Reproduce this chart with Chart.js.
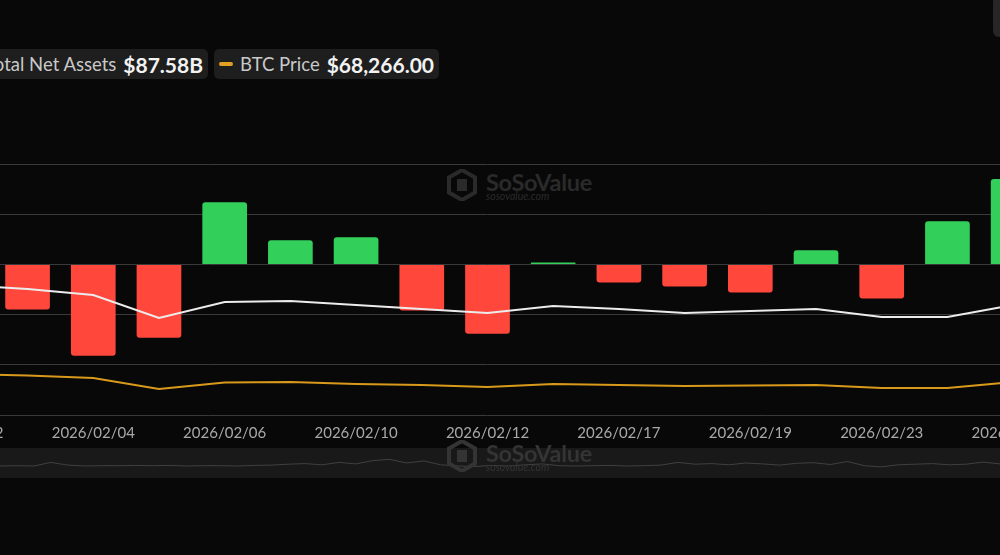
<!DOCTYPE html>
<html>
<head>
<meta charset="utf-8">
<script src="https://cdn.jsdelivr.net/npm/chart.js@4.4.1/dist/chart.umd.min.js"></script>
<style>
  html, body { margin: 0; padding: 0; background: #080808; overflow: hidden; }
  body { width: 1000px; height: 555px; position: relative; font-family: Lato, "Noto Sans", sans-serif; }
  .legend { position: absolute; top: 49px; height: 30px; background: #1e1e1e; border-radius: 5px;
            display: flex; align-items: center; white-space: nowrap; padding: 0 5px; box-sizing: border-box; }
  .legend .lbl { color: #c9c9c9; font-size: 18.5px; margin-right: 7px; }
  .legend .val { color: #f2f2f2; font-size: 21px; font-weight: 700; }
  .legend .mark { display: inline-block; width: 14px; height: 4px; border-radius: 2px; margin-right: 7px; }
  #wrap { position: absolute; left: -71px; top: 0; width: 1117px; height: 455px; }
  #navBand { position: absolute; left: 0; top: 448px; width: 1000px; height: 30px; background: #191919; }
  #navWrap { position: absolute; left: 0; top: 448px; width: 1000px; height: 30px; }
  .wm { position: absolute; color: #2a2a2a; font-weight: 700; font-size: 23.5px; letter-spacing: -0.3px; pointer-events: none; }
  .wm small { display: block; font-size: 10.5px; font-weight: 400; font-style: italic; letter-spacing: 0; margin-top: -6px; }
  .wm svg { position: absolute; left: -39px; top: 1px; }
  #topBtn { position: absolute; left: 993px; top: -4px; width: 40px; height: 41px; background: #262626; border-radius: 6px; }
</style>
</head>
<body>
<div id="topBtn"></div>
<div class="legend" style="right: 792px;"><span class="mark" style="background:#e8e8e8"></span><span class="lbl">Total Net Assets</span><span class="val">$87.58B</span></div>
<div class="legend" style="left: 214px;"><span class="mark" style="background:#e0a020"></span><span class="lbl">BTC Price</span><span class="val">$68,266.00</span></div>

<div class="wm" style="left:486px; top:168px;">
  <svg width="30" height="32" viewBox="0 0 30 32"><polygon points="15,1 28,8.5 28,23.5 15,31 2,23.5 2,8.5" fill="none" stroke="#2a2a2a" stroke-width="4"/><rect x="10" y="10" width="10" height="12" fill="#2a2a2a"/></svg>
  SoSoValue<small>sosovalue.com</small>
</div>

<div id="wrap"><canvas id="chartCanvas"></canvas></div>
<div id="navBand"></div>
<div id="navWrap"><canvas id="navCanvas"></canvas></div>
<div class="wm" style="left:486px; top:439px; color:#343434;">
  <svg width="30" height="32" viewBox="0 0 30 32"><polygon points="15,1 28,8.5 28,23.5 15,31 2,23.5 2,8.5" fill="none" stroke="#343434" stroke-width="4"/><rect x="10" y="10" width="10" height="12" fill="#343434"/></svg>
  SoSoValue<small>sosovalue.com</small>
</div>

<script>
// Fechas (días de negociación)
const dates = ['2026/02/02', '2026/02/03', '2026/02/04', '2026/02/05', '2026/02/06', '2026/02/09',
  '2026/02/10', '2026/02/11', '2026/02/12', '2026/02/13', '2026/02/17', '2026/02/18',
  '2026/02/19', '2026/02/20', '2026/02/23', '2026/02/24', '2026/02/25'];

// Entrada neta diaria (millones USD)
const netInflow = [560, -450, -910, -730, 620, 240, 270, -460, -690, 20, -180, -220, -280, 140, -340, 430, 850];

// Activos netos totales (miles de millones USD)
const totalNetAssets = [95.6, 94.0, 91.6, 82.4, 88.8, 89.2, 87.6, 86.0, 84.4, 87.2, 86.0, 84.4, 85.2, 86.0, 82.8, 82.8, 87.58];

// Precio BTC (USD)
const btcPrice = [73870, 72820, 71070, 63370, 67920, 68270, 66870, 66170, 64770, 66870, 66170, 65470, 65820, 66170, 64070, 64070, 68266];

// Línea del navegador inferior (historia larga, valores relativos)
const navLine = [40, 41, 40, 52, 43, 40, 41, 41, 42, 41, 42, 40, 41, 41, 40, 42, 43, 46, 48, 44,
  52, 47, 58, 62, 50, 57, 44, 40, 38, 42, 40, 44, 47, 41, 40, 41, 42, 40, 41, 43,
  52, 46, 48, 44, 50, 47, 43, 49, 51, 45, 55, 41, 37, 44, 46, 48, 44, 46, 53, 47];

const green = '#33cf5b';
const red = '#ff473c';

const ctx = document.getElementById('chartCanvas').getContext('2d');
const mainChart = new Chart(ctx, {
  type: 'bar',
  data: {
    labels: dates,
    datasets: [
      {
        type: 'line',
        label: 'Total Net Assets',
        data: totalNetAssets,
        yAxisID: 'assets',
        borderColor: '#ececec',
        borderWidth: 2,
        pointRadius: 0,
        tension: 0,
        order: 1
      },
      {
        type: 'line',
        label: 'BTC Price',
        data: btcPrice,
        yAxisID: 'price',
        borderColor: '#d99a1c',
        borderWidth: 2,
        pointRadius: 0,
        tension: 0,
        order: 1
      },
      {
        type: 'bar',
        label: 'Daily Total Net Inflow',
        data: netInflow,
        yAxisID: 'y',
        backgroundColor: netInflow.map(v => v >= 0 ? green : red),
        borderRadius: 3,
        borderSkipped: 'start',
        categoryPercentage: 1,
        barPercentage: 0.68,
        order: 2
      }
    ]
  },
  options: {
    responsive: true,
    maintainAspectRatio: false,
    animation: false,
    layout: { padding: { top: 164, left: 0, right: 0, bottom: 0 } },
    plugins: { legend: { display: false }, tooltip: { enabled: false } },
    scales: {
      x: {
        offset: true,
        grid: { display: false, drawTicks: false },
        border: { display: false },
        ticks: {
          autoSkip: false,
          maxRotation: 0,
          minRotation: 0,
          padding: 9,
          color: '#a9a9a9',
          font: { family: 'Lato', size: 15 },
          callback: function (val, i) { return i % 2 === 0 ? dates[i] : ''; }
        },
        afterFit: function (s) { s.height = 40; s.paddingLeft = 0; s.paddingRight = 0; }
      },
      y: {
        min: -1500,
        max: 1000,
        ticks: { display: false, stepSize: 500 },
        grid: { color: '#3a3a3a', lineWidth: 1, drawTicks: false },
        border: { display: false },
        afterFit: function (s) { s.width = 0; }
      },
      assets: { display: false, min: 43.6, max: 144.0 },
      price: { display: false, min: 45166, max: 220866 }
    }
  }
});

// Navegador inferior
const navCtx = document.getElementById('navCanvas').getContext('2d');
new Chart(navCtx, {
  type: 'line',
  data: {
    labels: navLine.map((_, i) => i),
    datasets: [{
      data: navLine,
      borderColor: '#404040',
      borderWidth: 1,
      pointRadius: 0,
      tension: 0
    }]
  },
  options: {
    responsive: true,
    maintainAspectRatio: false,
    animation: false,
    layout: { padding: 0 },
    plugins: { legend: { display: false }, tooltip: { enabled: false } },
    scales: {
      x: { display: false },
      y: { display: false, min: 0, max: 100 }
    }
  }
});
</script>
</body>
</html>
